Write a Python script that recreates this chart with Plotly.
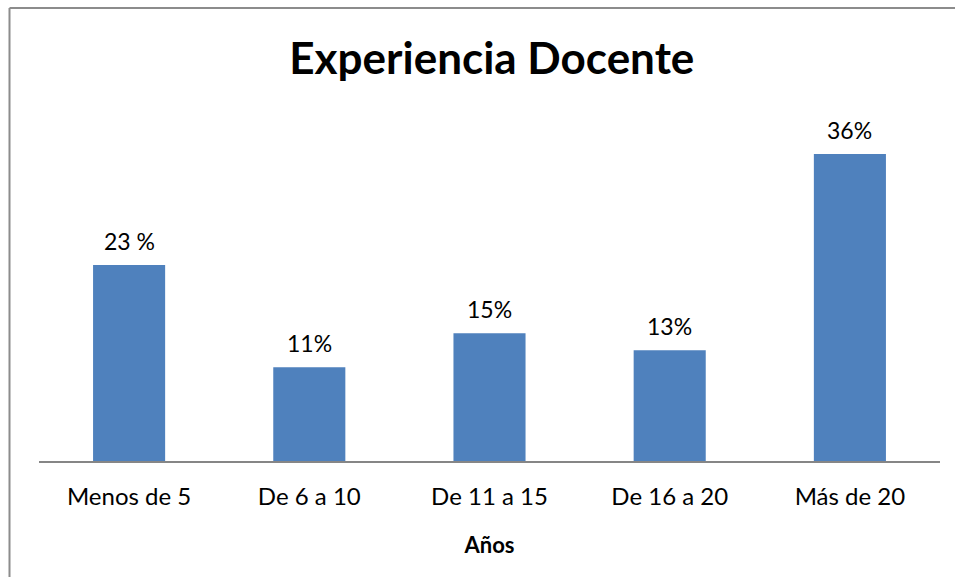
import plotly.graph_objects as go

categories = ["Menos de 5", "De 6 a 10", "De 11 a 15", "De 16 a 20", "Más de 20"]
values = [23, 11, 15, 13, 36]
labels = ["23 %", "11%", "15%", "13%", "36%"]

W, H = 955, 577
L, R, T, B = 39, 15, 120, 116
pw, ph = W - L - R, H - T - B

FONT = "Lato"
BAR = "#4F81BD"

fig = go.Figure(
    go.Bar(
        x=categories,
        y=values,
        marker=dict(color=BAR, line=dict(width=0)),
        width=0.4,
        hoverinfo="skip",
    )
)

for c, v, t in zip(categories, values, labels):
    fig.add_annotation(
        x=c, y=v, text=t, showarrow=False, yanchor="bottom", yshift=8,
        font=dict(family=FONT, size=23, color="#000000"),
    )

# outer frame: left and top edges of the chart area
fx = (9.5 - L) / pw
fy = (H - B - 8) / ph
fig.add_shape(type="line", xref="paper", yref="paper", x0=fx, x1=(W - L + 5) / pw,
              y0=fy, y1=fy, line=dict(color="#8C8C8C", width=2))
fig.add_shape(type="line", xref="paper", yref="paper", x0=fx, x1=fx,
              y0=fy, y1=-(B + 5) / ph, line=dict(color="#8C8C8C", width=2))

fig.update_layout(
    width=W, height=H,
    margin=dict(l=L, r=R, t=T, b=B),
    paper_bgcolor="white", plot_bgcolor="white",
    showlegend=False,
    title=dict(text="<b>Experiencia Docente</b>", x=0.515, xanchor="center",
               y=1 - 59 / H, yanchor="middle",
               font=dict(family=FONT, size=44, color="#000000")),
    xaxis=dict(
        showline=True, linecolor="#868686", linewidth=2,
        showgrid=False, ticks="", ticklabelstandoff=13,
        tickfont=dict(family=FONT, size=24, color="#000000"),
        title=dict(text="<b>Años</b>", font=dict(family=FONT, size=22, color="#000000"),
                   standoff=29),
    ),
    yaxis=dict(range=[0, 40], visible=False, showgrid=False),
)

fig.write_html("out.html")
